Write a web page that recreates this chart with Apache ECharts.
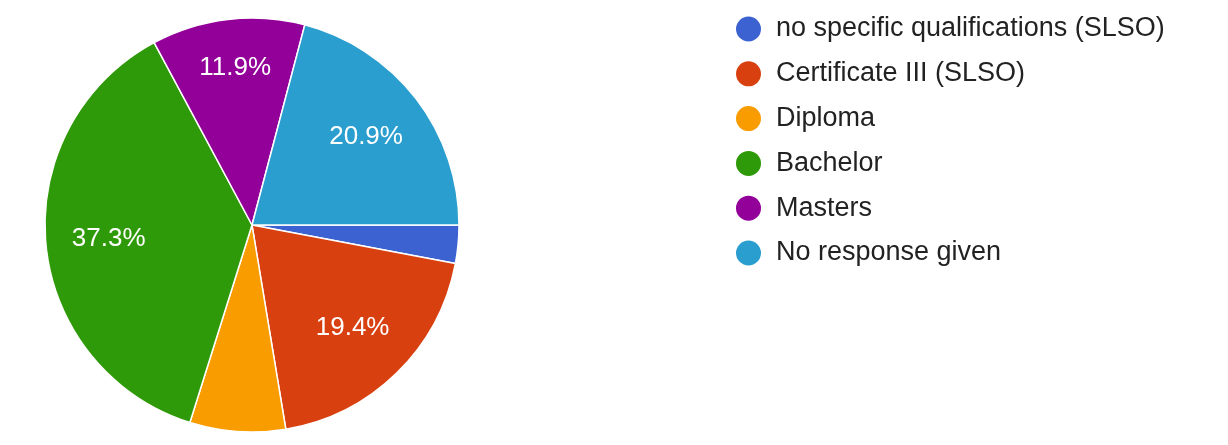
<!DOCTYPE html>
<html>
<head>
<meta charset="utf-8">
<script src="https://cdn.jsdelivr.net/npm/echarts@6/dist/echarts.min.js"></script>
<style>
  html, body { margin: 0; padding: 0; background: #fff; }
  #chart { width: 1228px; height: 445px; }
</style>
</head>
<body>
<div id="chart"></div>
<script>
// Highest qualification held (response counts)
const categories = [
  'no specific qualifications (SLSO)',
  'Certificate III (SLSO)',
  'Diploma',
  'Bachelor',
  'Masters',
  'No response given'
];
const counts = [2, 13, 5, 25, 8, 14];
const colors = ['#3b62d0', '#d94010', '#f89c00', '#2f9a09', '#930099', '#2a9ecf'];

const center = [252, 225];
const pieRadius = 207;
const labelRingRadius = 282; // labels sit halfway along this ring (~0.68 of the pie radius)

const pieData = categories.map((name, i) => ({ name, value: counts[i] }));

// the narrow Masters slice carries its label a little further out
const labelData = pieData.map(d =>
  d.name === 'Masters' ? Object.assign({}, d, { label: { offset: [0, -14] } }) : d
);

const chart = echarts.init(document.getElementById('chart'), null, { renderer: 'canvas' });

chart.setOption({
  animation: false,
  color: colors,
  legend: {
    orient: 'vertical',
    left: 729,
    top: 9.5,
    icon: 'circle',
    itemWidth: 27,
    itemHeight: 27,
    itemGap: 15.8,
    data: categories,
    textStyle: {
      fontFamily: 'Liberation Sans, Arial, sans-serif',
      fontSize: 27,
      lineHeight: 27,
      color: '#222',
      padding: [0, 0, 0, 9]
    }
  },
  series: [
    {
      type: 'pie',
      center: center,
      radius: [0, pieRadius],
      startAngle: 0,
      clockwise: true,
      avoidLabelOverlap: false,
      data: pieData,
      itemStyle: { borderColor: '#fff', borderWidth: 1.5 },
      label: { show: false },
      labelLine: { show: false },
      emphasis: { disabled: true }
    },
    {
      // transparent ring that only carries the percentage labels
      type: 'pie',
      center: center,
      radius: [0, labelRingRadius],
      startAngle: 0,
      clockwise: true,
      silent: true,
      avoidLabelOverlap: false,
      data: labelData,
      z: 5,
      itemStyle: { color: 'rgba(0,0,0,0)', borderWidth: 0 },
      label: {
        show: true,
        position: 'inside',
        formatter: p => (p.percent < 10 ? '' : p.percent.toFixed(1) + '%'),
        color: '#fff',
        fontFamily: 'Liberation Sans, Arial, sans-serif',
        fontSize: 26
      },
      labelLine: { show: false },
      emphasis: { disabled: true }
    }
  ]
});
</script>
</body>
</html>
